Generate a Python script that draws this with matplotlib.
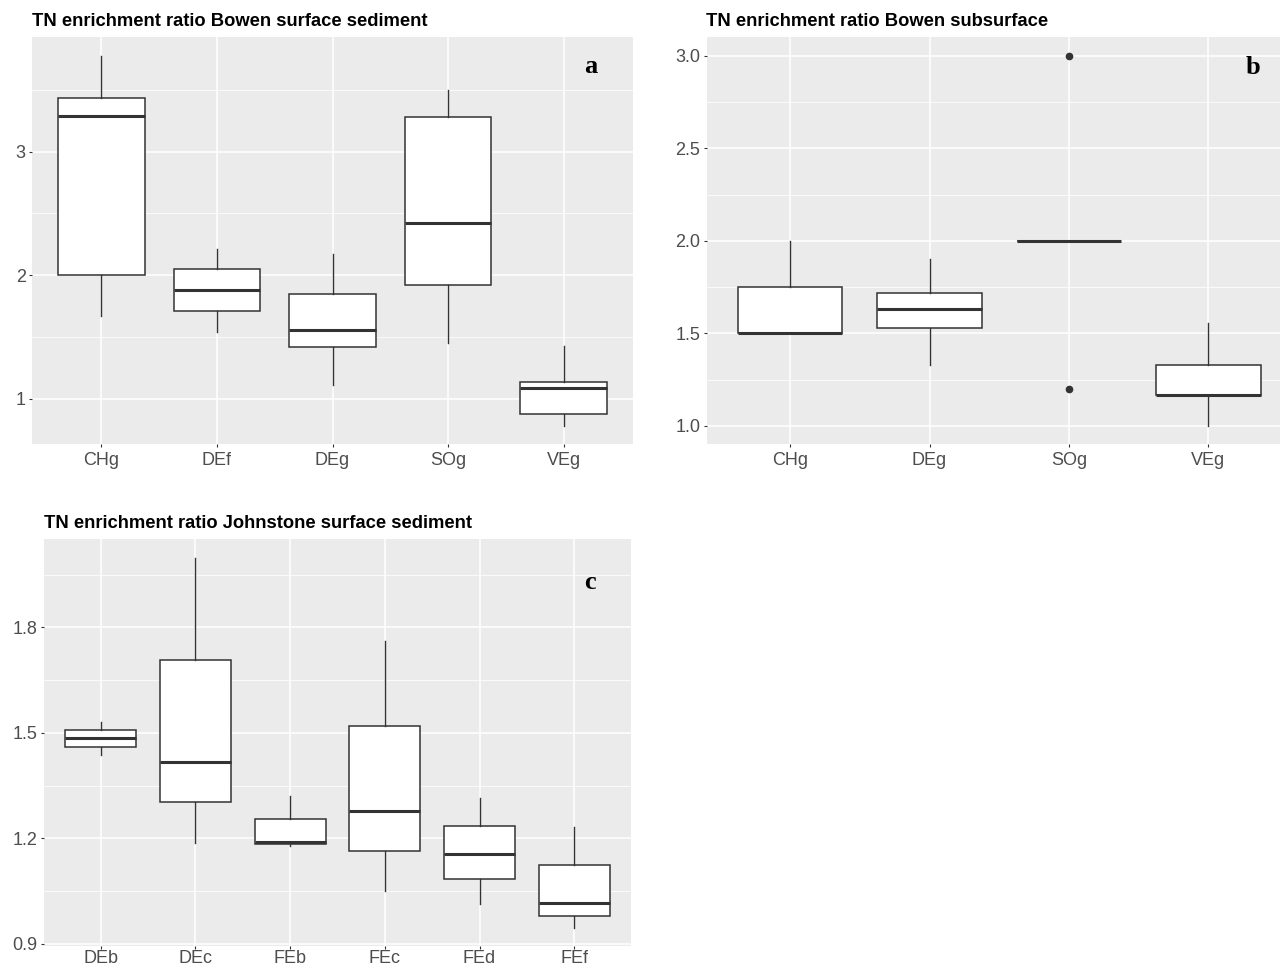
import matplotlib
import numpy as np
from matplotlib import pyplot as plt

matplotlib.use('Agg')

# panel a - Bowen surface sediment
a_cats = ['CHg', 'DEf', 'DEg', 'SOg', 'VEg']
a_low = [1.67, 1.54, 1.11, 1.45, 0.78]
a_q1 = [2.00, 1.71, 1.42, 1.92, 0.88]
a_med = [3.29, 1.88, 1.56, 2.42, 1.09]
a_q3 = [3.43, 2.05, 1.85, 3.28, 1.14]
a_high = [3.77, 2.21, 2.17, 3.50, 1.43]
a_fliers = [[], [], [], [], []]
a_ticks = [1, 2, 3]
a_ticklabels = ['1', '2', '3']

# panel b - Bowen subsurface
b_cats = ['CHg', 'DEg', 'SOg', 'VEg']
b_low = [1.50, 1.33, 2.00, 1.00]
b_q1 = [1.50, 1.53, 2.00, 1.165]
b_med = [1.50, 1.63, 2.00, 1.168]
b_q3 = [1.75, 1.72, 2.00, 1.33]
b_high = [2.00, 1.90, 2.00, 1.555]
b_fliers = [[], [], [3.0, 1.2], []]
b_ticks = [1.0, 1.5, 2.0, 2.5, 3.0]
b_ticklabels = ['1.0', '1.5', '2.0', '2.5', '3.0']

# panel c - Johnstone surface sediment
c_cats = ['DEb', 'DEc', 'FEb', 'FEc', 'FEd', 'FEf']
c_low = [1.438, 1.188, 1.177, 1.050, 1.014, 0.945]
c_q1 = [1.461, 1.303, 1.184, 1.163, 1.085, 0.980]
c_med = [1.486, 1.416, 1.191, 1.277, 1.155, 1.016]
c_q3 = [1.509, 1.706, 1.255, 1.520, 1.235, 1.123]
c_high = [1.532, 1.998, 1.319, 1.762, 1.315, 1.231]
c_fliers = [[], [], [], [], [], []]
c_ticks = [0.9, 1.2, 1.5, 1.8]
c_ticklabels = ['0.9', '1.2', '1.5', '1.8']

BG = '#EBEBEB'
DARK = '#333333'
TICK_TXT = '#4D4D4D'


def make_stats(cats, low, q1, med, q3, high, fliers):
    stats = []
    for i in range(len(cats)):
        stats.append({'label': cats[i], 'whislo': low[i], 'q1': q1[i],
                      'med': med[i], 'q3': q3[i], 'whishi': high[i],
                      'fliers': fliers[i]})
    return stats


def draw_panel(ax, title, letter, letter_pos, cats, low, q1, med, q3, high,
               fliers, ticks, ticklabels, ylim, xpad=3.5):
    stats = make_stats(cats, low, q1, med, q3, high, fliers)
    pos = np.arange(1, len(cats) + 1)
    ax.bxp(stats, positions=pos, widths=0.75, showcaps=False,
           patch_artist=True,
           boxprops=dict(facecolor='white', edgecolor=DARK, linewidth=1.1),
           whiskerprops=dict(color=DARK, linewidth=1.0),
           medianprops=dict(color=DARK, linewidth=2.2),
           flierprops=dict(marker='o', markerfacecolor=DARK,
                           markeredgecolor=DARK, markersize=4.5))
    ax.set_facecolor(BG)
    ax.set_xticks(pos)
    ax.set_xticklabels(cats)
    ax.set_yticks(ticks)
    ax.set_yticklabels(ticklabels)
    # minor gridlines halfway between the major ones (only inside the panel)
    step = ticks[1] - ticks[0]
    minor = np.arange(ticks[0] - step / 2, ylim[1], step)
    minor = minor[(minor > ylim[0]) & (minor < ylim[1])]
    ax.set_yticks(minor, minor=True)
    # limits last, set_yticks can widen them
    ax.set_xlim(0.4, len(cats) + 0.6)
    ax.set_ylim(*ylim)
    ax.tick_params(axis='y', which='minor', length=0)
    ax.grid(which='major', color='white', linewidth=1.1)
    ax.grid(which='minor', axis='y', color='white', linewidth=0.55)
    ax.set_axisbelow(True)
    for s in ax.spines.values():
        s.set_visible(False)
    ax.tick_params(which='major', length=2, width=0.8, color=DARK,
                   labelcolor=TICK_TXT, labelsize=13)
    ax.tick_params(axis='x', pad=xpad)
    ax.tick_params(axis='y', pad=2.5)
    ax.set_title(title, loc='left', fontsize=13.2, fontweight='bold',
                 pad=8, color='black')
    ax.text(letter_pos[0], letter_pos[1], letter, transform=ax.transAxes,
            fontsize=19, fontweight='bold', family='Liberation Serif',
            ha='center', va='center')


plt.rcParams['font.family'] = ['Liberation Sans', 'DejaVu Sans']

fig = plt.figure(figsize=(12.8, 9.67), dpi=100)
W, H = 1280.0, 967.0

ax_a = fig.add_axes([32 / W, 1 - 444.3 / H, (633 - 32) / W, (444.3 - 37.3) / H])
ax_b = fig.add_axes([706.5 / W, 1 - 444.3 / H, (1292 - 706.5) / W, (444.3 - 37.3) / H])
ax_c = fig.add_axes([44 / W, 1 - 946 / H, (631 - 44) / W, (946 - 539) / H])

draw_panel(ax_a, 'TN enrichment ratio Bowen surface sediment', 'a',
           (0.929, 0.928), a_cats, a_low, a_q1, a_med, a_q3, a_high,
           a_fliers, a_ticks, a_ticklabels, (0.633, 3.925))
draw_panel(ax_b, 'TN enrichment ratio Bowen subsurface', 'b',
           (0.934, 0.926), b_cats, b_low, b_q1, b_med, b_q3, b_high,
           b_fliers, b_ticks, b_ticklabels, (0.901, 3.099))
draw_panel(ax_c, 'TN enrichment ratio Johnstone surface sediment', 'c',
           (0.93, 0.893), c_cats, c_low, c_q1, c_med, c_q3, c_high,
           c_fliers, c_ticks, c_ticklabels, (0.894, 2.051), xpad=1.0)

fig.savefig('out.png', dpi=100)
